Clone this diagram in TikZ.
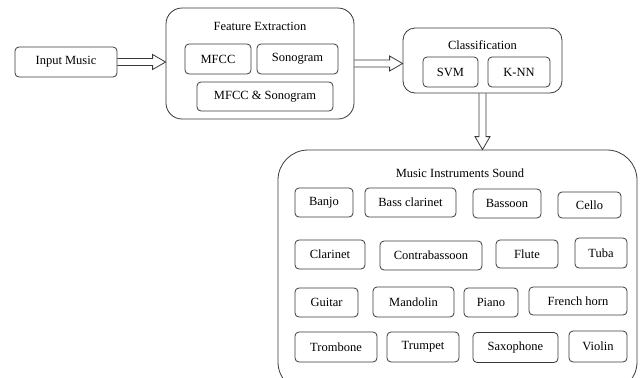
\documentclass[tikz,border=0pt]{standalone}
\usepackage{fontspec}
\setmainfont{Liberation Serif}
\usepackage{tikz}
\usetikzlibrary{positioning,calc}
\definecolor{lineg}{HTML}{3A3A3A}
\newcommand\fsz{\fontsize{12.5}{14}\selectfont}
\tikzset{box/.style={draw=lineg,line width=0.8pt,rounded corners=4pt,align=center,font=\fsz,inner sep=0pt},
         group/.style={box,rounded corners=16pt},
         ttl/.style={font=\fsz,inner sep=0pt},
         fat/.style={draw=lineg,line width=0.8pt,line join=miter,to path={
           ($(\tikztostart)!3.5pt!90:(\tikztotarget)$)
           -- ($(\tikztotarget)!13pt!(\tikztostart)!3.5pt!-90:(\tikztostart)$)
           -- ($(\tikztotarget)!13pt!(\tikztostart)!7.5pt!-90:(\tikztostart)$)
           -- (\tikztotarget)
           -- ($(\tikztotarget)!13pt!(\tikztostart)!7.5pt!90:(\tikztostart)$)
           -- ($(\tikztotarget)!13pt!(\tikztostart)!3.5pt!90:(\tikztostart)$)
           -- ($(\tikztostart)!3.5pt!-90:(\tikztotarget)$)}}}

\begin{document}
\begin{tikzpicture}[x=1pt,y=-1pt]
 \useasboundingbox[fill=white] (0,0) rectangle (641,378);
 % input and feature extraction
 \node[box,minimum width=102pt,minimum height=30pt] (in) at (66,62) {Input Music};
 \node[group,minimum width=188pt,minimum height=111pt] (fe) at (260,63.5) {};
 \node[ttl] (fet) at (260,26) {Feature Extraction};
 \node[box,minimum width=66pt,minimum height=30pt] (mfcc) at (218,59) {MFCC};
 \node[box,minimum width=81pt,minimum height=30pt] (sono) at (297.5,59) {Sonogram};
 \node[box,minimum width=136pt,minimum height=29pt] (both) at (265,96.5) {MFCC \& Sonogram};
 % classification
 \node[group,rounded corners=12pt,minimum width=159pt,minimum height=65pt] (cls) at (482.5,60.5) {};
 \node[ttl] (clst) at (482.5,45) {Classification};
 \node[box,minimum width=55pt,minimum height=30pt] (svm) at (450.5,72) {SVM};
 \node[box,minimum width=62pt,minimum height=30pt] (knn) at (519,72) {K-NN};
 % instruments
 \node[group,rounded corners=30pt,minimum width=359pt,minimum height=242pt] (mis) at (457.5,271) {};
 \node[ttl] (mist) at (460,173) {Music Instruments Sound};
 \node[box,minimum width=58pt,minimum height=29pt] (banjo) at (324,202.5) {Banjo};
 \node[box,minimum width=91pt,minimum height=29pt] (bcl) at (410.5,202.5) {Bass clarinet};
 \node[box,minimum width=68pt,minimum height=29pt] (bsn) at (507,203.5) {Bassoon};
 \node[box,minimum width=63pt,minimum height=26pt] (cello) at (589.5,205) {Cello};
 \node[box,minimum width=70pt,minimum height=29pt] (cl) at (330,254.5) {Clarinet};
 \node[box,minimum width=102pt,minimum height=29pt] (cbsn) at (431,255.5) {Contrabassoon};
 \node[box,minimum width=62pt,minimum height=28pt] (flute) at (527,254) {Flute};
 \node[box,minimum width=52pt,minimum height=30pt] (tuba) at (601,253) {Tuba};
 \node[box,minimum width=63pt,minimum height=29pt] (gtr) at (326.5,302.5) {Guitar};
 \node[box,minimum width=81pt,minimum height=30pt] (mand) at (413.5,302) {Mandolin};
 \node[box,minimum width=54pt,minimum height=29pt] (piano) at (491,302.5) {Piano};
 \node[box,minimum width=98pt,minimum height=28pt] (horn) at (578,301) {French horn};
 \node[box,minimum width=82pt,minimum height=30pt] (tbn) at (336,347) {Trombone};
 \node[box,minimum width=72pt,minimum height=30pt] (tpt) at (423,347) {Trumpet};
 \node[box,minimum width=85pt,minimum height=30pt] (sax) at (515.5,347.5) {Saxophone};
 \node[box,minimum width=58pt,minimum height=31pt] (vln) at (598,346.5) {Violin};
 % hollow arrows
 \draw[fat] (in.east) to (in.east -| fe.west);
 \draw[fat] (fe.east) to (fe.east -| cls.west);
 \draw[fat] (cls.south) to (cls.south |- mis.north);
\end{tikzpicture}
\end{document}
